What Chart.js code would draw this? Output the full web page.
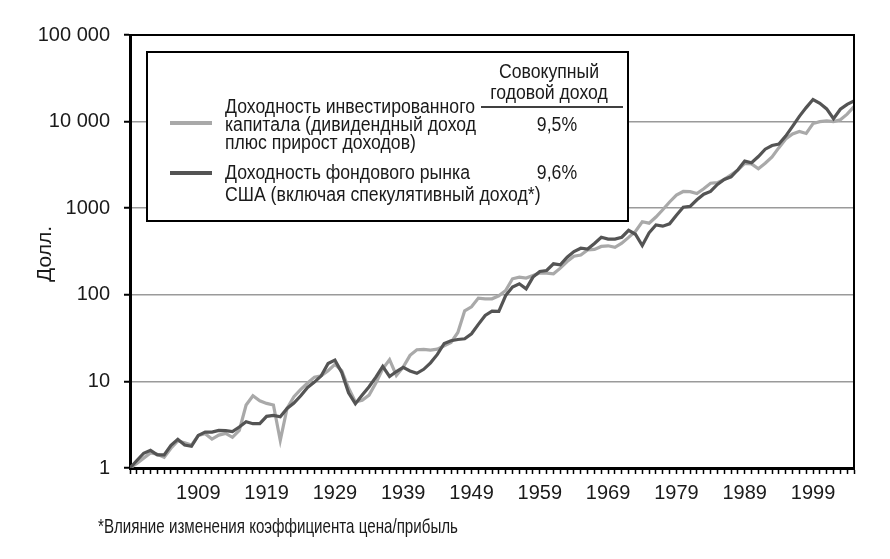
<!DOCTYPE html>
<html>
<head>
<meta charset="utf-8">
<script src="https://cdn.jsdelivr.net/npm/chart.js@4.4.0/dist/chart.umd.min.js"></script>
<style>
  html, body { margin: 0; padding: 0; background: #fff; }
  #wrap { width: 890px; height: 559px; }
</style>
</head>
<body>
<div id="wrap"><canvas id="chart" width="890" height="559"></canvas></div>
<script>
// Годы: 1899 (база $1) ... 2005
const years = [];
for (let y = 1899; y <= 2005; y++) years.push(y);

// Подписи оси X
const xLabelYears = [1909, 1919, 1929, 1939, 1949, 1959, 1969, 1979, 1989, 1999];

// Деления оси Y (логарифмическая шкала) и их подписи
const yTickValues = [1, 10, 100, 1000, 10000, 100000];
const yTickLabels = ['1', '10', '100', '1000', '10 000', '100 000'];

// Доходность инвестированного капитала (светлая линия), долл.
const investReturn = [
  1.00, 1.13, 1.30, 1.49, 1.44, 1.33, 1.69, 2.05, 1.96, 1.84,
  2.38, 2.49, 2.16, 2.40, 2.51, 2.26, 2.72, 5.33, 6.83, 5.98,
  5.57, 5.33, 2.08, 4.90, 6.65, 8.09, 9.57, 11.2, 11.6, 13.3,
  15.7, 13.3, 8.38, 5.78, 6.04, 6.95, 9.57, 14.0, 17.8, 11.7,
  14.6, 20.0, 23.2, 23.4, 23.0, 23.6, 25.8, 28.2, 36.7, 65.4,
  72.7, 91.6, 89.9, 89.9, 97.3, 112, 153, 160, 156, 167,
  179, 178, 175, 203, 242, 279, 288, 329, 334, 362,
  368, 354, 395, 460, 540, 698, 672, 790, 960, 1180,
  1420, 1560, 1550, 1480, 1680, 1940, 1970, 2150, 2430, 2760,
  3300, 3250, 2850, 3300, 3900, 5000, 6300, 7200, 7700, 7300,
  9500, 10000, 10200, 10000, 10500, 12200, 14900
];

// Доходность фондового рынка США (темная линия), долл.
const marketReturn = [
  1.00, 1.22, 1.48, 1.60, 1.42, 1.42, 1.83, 2.14, 1.84, 1.78,
  2.38, 2.60, 2.60, 2.72, 2.70, 2.63, 2.97, 3.42, 3.25, 3.25,
  3.95, 4.05, 3.91, 4.88, 5.62, 6.83, 8.53, 9.82, 11.6, 16.1,
  17.6, 12.7, 7.40, 5.52, 6.95, 8.68, 11.2, 14.9, 11.4, 13.0,
  14.5, 13.2, 12.4, 13.8, 16.4, 20.5, 27.4, 29.5, 30.5, 31.1,
  35.5, 45.5, 57.8, 64.8, 64.2, 98, 123, 134, 117, 160,
  186, 191, 228, 222, 272, 316, 345, 338, 392, 462,
  440, 440, 462, 555, 500, 370, 520, 640, 620, 660,
  830, 1025, 1050, 1250, 1450, 1560, 1880, 2150, 2300, 2780,
  3500, 3350, 3950, 4800, 5300, 5500, 6800, 8800, 11500, 14500,
  18000, 16300, 14000, 10800, 13900, 15800, 17300
];

const FONT = '"Liberation Sans", Arial, sans-serif';
const TEXT_COLOR = '#1a1a1a';
const LIGHT = '#a9a9a9';
const DARK = '#545454';

// Текст со сжатием по горизонтали
function drawText(ctx, str, x, y, align, sx) {
    ctx.save();
    ctx.translate(x, y);
    ctx.scale(sx, 1);
    ctx.textAlign = align;
    ctx.fillText(str, 0, 0);
    ctx.restore();
}

// Рамка, легенда, подпись оси и сноска
const overlayPlugin = {
    id: 'overlay',
    afterDraw(chart) {
        const ctx = chart.ctx;
        const a = chart.chartArea;

        // верхняя и правая стороны рамки
        ctx.save();
        ctx.strokeStyle = '#000';
        ctx.lineWidth = 2;
        ctx.beginPath();
        ctx.moveTo(a.left, a.top);
        ctx.lineTo(a.right, a.top);
        ctx.lineTo(a.right, a.bottom);
        ctx.stroke();

        // блок легенды
        ctx.fillStyle = '#fff';
        ctx.fillRect(147, 52, 481, 169);
        ctx.lineWidth = 2;
        ctx.strokeRect(147, 52, 481, 169);

        ctx.font = '20px ' + FONT;
        ctx.fillStyle = TEXT_COLOR;
        ctx.textBaseline = 'middle';
        const sx = 250 / ctx.measureText('Доходность инвестированного').width;

        drawText(ctx, 'Совокупный', 549, 72, 'center', sx);
        drawText(ctx, 'годовой доход', 549, 93, 'center', sx);

        drawText(ctx, 'Доходность инвестированного', 225, 107, 'left', sx);
        drawText(ctx, 'капитала (дивидендный доход', 225, 125, 'left', sx);
        drawText(ctx, 'плюс прирост доходов)', 225, 143, 'left', sx);
        drawText(ctx, 'Доходность фондового рынка', 225, 173, 'left', sx);
        drawText(ctx, 'США (включая спекулятивный доход*)', 225, 195, 'left', sx);
        drawText(ctx, '9,5%', 557, 125, 'center', sx);
        drawText(ctx, '9,6%', 557, 173, 'center', sx);

        // линия под заголовком
        ctx.strokeStyle = '#000';
        ctx.lineWidth = 1.5;
        ctx.beginPath();
        ctx.moveTo(481, 107);
        ctx.lineTo(623, 107);
        ctx.stroke();

        // образцы линий
        ctx.lineWidth = 4;
        ctx.strokeStyle = LIGHT;
        ctx.beginPath();
        ctx.moveTo(170, 123);
        ctx.lineTo(212, 123);
        ctx.stroke();
        ctx.strokeStyle = DARK;
        ctx.beginPath();
        ctx.moveTo(170, 173);
        ctx.lineTo(212, 173);
        ctx.stroke();

        // подпись оси Y
        ctx.save();
        ctx.font = '21px ' + FONT;
        ctx.translate(45, 254);
        ctx.rotate(-Math.PI / 2);
        ctx.textAlign = 'center';
        ctx.fillText('Долл.', 0, 0);
        ctx.restore();

        // сноска
        ctx.font = '21px ' + FONT;
        const fx = 360 / ctx.measureText('*Влияние изменения коэффициента цена/прибыль').width;
        drawText(ctx, '*Влияние изменения коэффициента цена/прибыль', 98, 527, 'left', fx);
        ctx.restore();
    }
};

const ctx = document.getElementById('chart').getContext('2d');

window.myChart = new Chart(ctx, {
    type: 'line',
    data: {
        datasets: [
            {
                label: 'Доходность фондового рынка США',
                data: marketReturn.map((v, i) => ({ x: years[i], y: v })),
                borderColor: DARK,
                borderWidth: 3.2,
                pointRadius: 0,
                tension: 0,
                order: 0
            },
            {
                label: 'Доходность инвестированного капитала',
                data: investReturn.map((v, i) => ({ x: years[i], y: v })),
                borderColor: LIGHT,
                borderWidth: 3.2,
                pointRadius: 0,
                tension: 0,
                order: 1
            }
        ]
    },
    options: {
        responsive: false,
        animation: false,
        layout: { padding: { top: 35, right: 36, left: 0, bottom: 0 } },
        plugins: {
            legend: { display: false },
            tooltip: { enabled: false }
        },
        scales: {
            x: {
                type: 'linear',
                min: 1899,
                max: 2005,
                afterBuildTicks: s => { s.ticks = years.map(v => ({ value: v })); },
                afterFit: s => { s.height = 91; },
                ticks: {
                    autoSkip: false,
                    maxRotation: 0,
                    padding: 7,
                    color: TEXT_COLOR,
                    font: { family: FONT, size: 20 },
                    callback: v => xLabelYears.includes(v) ? String(v) : ''
                },
                grid: { drawOnChartArea: false, tickLength: 6, tickColor: '#000', tickWidth: 1.5 },
                border: { color: '#000', width: 3 }
            },
            y: {
                type: 'logarithmic',
                min: 1,
                max: 100000,
                afterBuildTicks: s => { s.ticks = yTickValues.map(v => ({ value: v })); },
                afterFit: s => { s.width = 130; },
                ticks: {
                    padding: 14,
                    color: TEXT_COLOR,
                    font: { family: FONT, size: 20 },
                    callback: v => yTickLabels[yTickValues.indexOf(v)]
                },
                grid: {
                    color: c => (c.tick && (c.tick.value === 1 || c.tick.value === 100000)) ? 'rgba(0,0,0,0)' : '#9a9a9a',
                    lineWidth: 1.5,
                    tickLength: 6,
                    tickColor: '#000',
                    tickWidth: 2
                },
                border: { color: '#000', width: 3 }
            }
        }
    },
    plugins: [overlayPlugin]
});
</script>
</body>
</html>
